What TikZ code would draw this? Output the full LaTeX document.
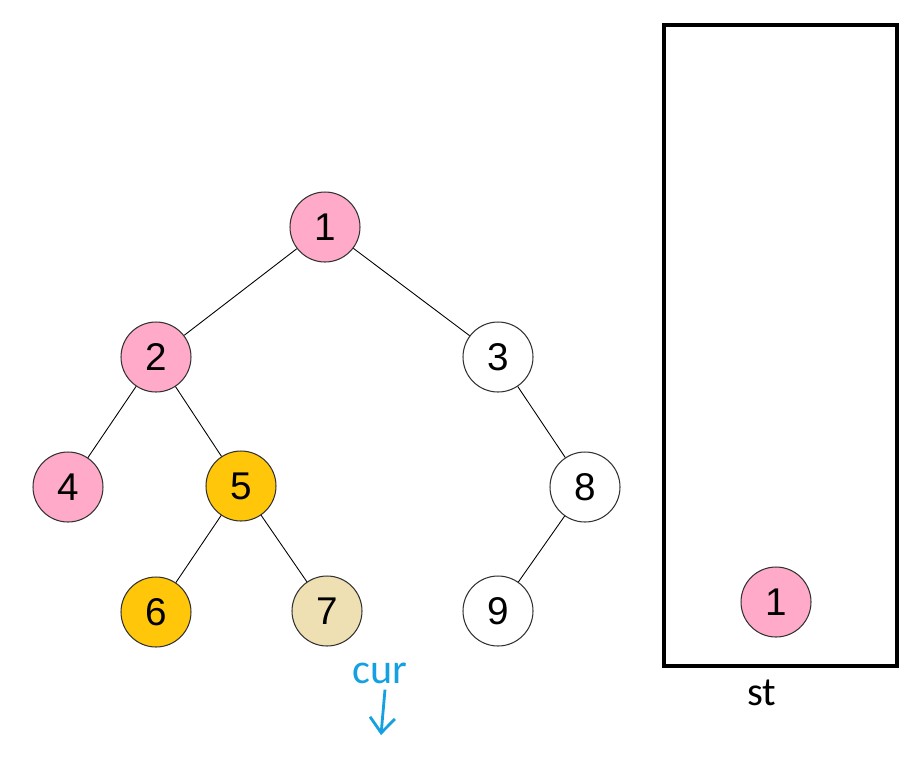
\documentclass[tikz,border=0pt]{standalone}
\usepackage{fontspec}
\setmainfont{Liberation Sans}
\newfontfamily\notefont{Carlito}
\usetikzlibrary{arrows.meta,positioning}
\definecolor{visited}{RGB}{255,170,200}
\definecolor{active}{RGB}{255,198,10}
\definecolor{current}{RGB}{238,224,178}
\definecolor{curblue}{RGB}{20,160,225}
\tikzset{
  tnode/.style={draw=black!80, circle, minimum size=1.4cm, inner sep=0pt, font=\fontsize{22}{26}\selectfont, line width=0.6pt},
  edge/.style={draw, line width=0.5pt},
  stackbox/.style={draw, line width=2.8pt},
}
\begin{document}
\begin{tikzpicture}[x=0.02cm, y=-0.02cm]
\useasboundingbox (0,0) rectangle (923,762);

% Tree
\node[tnode, fill=visited] (n1) at (325,227) {1};
\node[tnode, fill=visited] (n2) at (156,357) {2};
\node[tnode, fill=white] (n3) at (498,357) {3};
\node[tnode, fill=visited] (n4) at (68,487) {4};
\node[tnode, fill=active] (n5) at (241,486) {5};
\node[tnode, fill=white] (n8) at (585,487) {8};
\node[tnode, fill=active] (n6) at (156,612) {6};
\node[tnode, fill=current] (n7) at (327,611) {7};
\node[tnode, fill=white] (n9) at (498,611) {9};

\foreach \a/\b in {n1/n2, n1/n3, n2/n4, n2/n5, n3/n8, n5/n6, n5/n7, n8/n9}
  \draw[edge] (\a) -- (\b);

% Stack
\draw[stackbox] (664,25) rectangle (897,666);
\node[tnode, fill=visited] (s1) at (776,602) {1};
\node[font=\notefont\fontsize{23}{27}\selectfont] (st) at (762,693) {st};

% cur pointer
\node[font=\notefont\fontsize{24}{28}\selectfont, text=curblue] (cur) at (380,673) {cur};
\coordinate (curtip) at (381,735);
\draw[curblue, line width=1.6pt, -{Straight Barb[length=3mm, width=5mm]}] (cur.south) ++(5,0) -- (curtip);

\end{tikzpicture}
\end{document}
